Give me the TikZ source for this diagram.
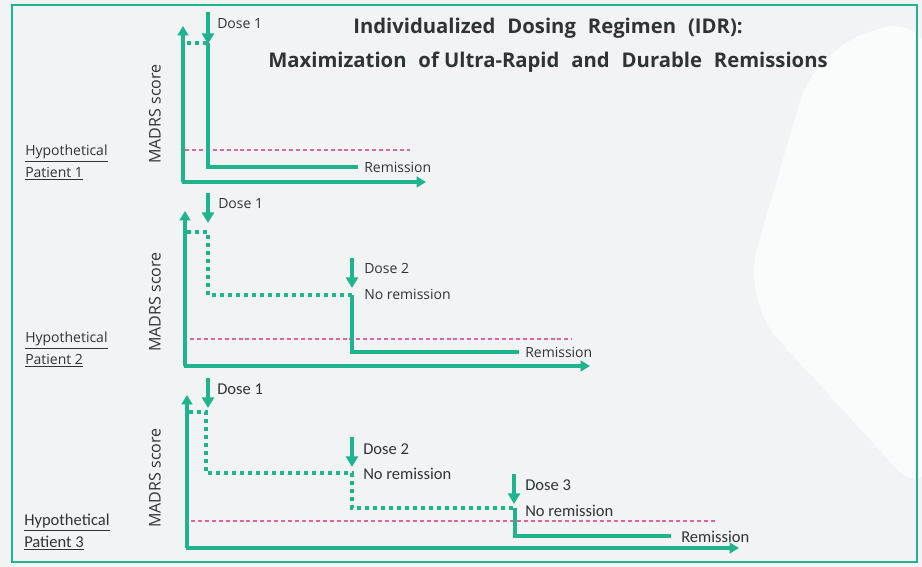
\documentclass[tikz,border=0pt]{standalone}
\usepackage{fontspec}
\setmainfont{Open Sans}
\newfontfamily\calfont{Carlito}
\usepackage{xcolor}
\usepackage{tikz}
\usetikzlibrary{arrows.meta}

\definecolor{idrgreen}{HTML}{1FB38E}
\definecolor{idrpink}{HTML}{E0649A}
\definecolor{idrback}{HTML}{F1F3F4}
\definecolor{idrtext}{HTML}{2E3436}

\newcommand{\gap}{\hspace{5pt}}

\begin{document}
\begin{tikzpicture}[
    x=0.75pt, y=-0.75pt,
    axis/.style={line width=3pt, idrgreen, -{Triangle[width=8pt,length=7pt]}},
    dose/.style={line width=3pt, idrgreen, -{Triangle[width=9pt,length=8pt]}},
    course/.style={line width=3pt, idrgreen},
    dotcourse/.style={line width=3pt, idrgreen, dash pattern=on 3pt off 3pt},
    cutoff/.style={idrpink, line width=0.8pt, dash pattern=on 3pt off 2.2pt},
    lbl/.style={anchor=west, inner sep=0pt, text=idrtext,
        font=\fontsize{10.5}{12}\selectfont},
    lblc/.style={anchor=west, inner sep=0pt, text=idrtext,
        font=\calfont\fontsize{12.4}{14}\selectfont},
    ylbl/.style={rotate=90, inner sep=0pt, text=idrtext,
        font=\fontsize{12}{14}\selectfont},
    patient/.style={anchor=west, inner sep=0pt, align=left, text=idrtext,
        font=\fontsize{10.5}{16}\selectfont},
    patientc/.style={anchor=west, inner sep=0pt, align=left, text=idrtext,
        font=\calfont\fontsize{12.4}{16}\selectfont},
    title/.style={inner sep=0pt, text=idrtext,
        font=\bfseries\fontsize{15.2}{18}\selectfont}
]

% Background and frame
\fill[idrback] (0,0) rectangle (922,567);
\useasboundingbox (0,0) rectangle (922,567);
\fill[white, opacity=0.7, rounded corners=40pt]
    (930,12) -- (815,50) -- (742,300) -- (930,505) -- cycle;
\draw[idrgreen, line width=1.5pt] (12,5) rectangle (917,562);

% Title
\node[title] (head1) at (548,28)
    {Individualized\gap{} Dosing\gap{} Regimen\gap{} (IDR):};
\node[title] (head2) at (548,62)
    {Maximization\gap{} of Ultra-Rapid\gap{} and\gap{} Durable\gap{} Remissions};

% ---- Patient 1 ----

\node[patient] (pat1) at (25,162.5)
    {\underline{Hypothetical}\\\underline{Patient 1}};
\node[ylbl] (mad1) at (155,114) {MADRS score};

% axes
\draw[axis] (183,182) -- (183,26);
\draw[axis] (181.5,182) -- (426,182);

% remission threshold
\draw[cutoff] (185,150) -- (410,150);

% course
\draw[dotcourse] (187,43) -- (208,43);
\draw[course] (208,43) -- (208,167) -- (358,167);

% dose
\draw[dose] (208,12) -- (208,44);
\node[lbl] (dose11) at (217,24) {Dose 1};
\node[lbl] (rem1) at (364,167) {Remission};

% ---- Patient 2 ----

\node[patient] (pat2) at (25,349.5)
    {\underline{Hypothetical}\\\underline{Patient 2}};
\node[ylbl] (mad2) at (155,302) {MADRS score};

% axes
\draw[axis] (185,366) -- (185,211);
\draw[axis] (183.5,366) -- (590,366);

% remission threshold
\draw[cutoff] (190,339) -- (572,339);

% course
\draw[dotcourse] (187,232) -- (208,232) -- (208,295) -- (352,295);
\draw[course] (352,295) -- (352,352) -- (519,352);

% doses
\draw[dose] (208,193) -- (208,223);
\node[lbl] (dose21) at (218,204) {Dose 1};
\draw[dose] (352,258) -- (352,288);
\node[lbl] (dose22) at (364,268) {Dose 2};
\node[lbl] (norem21) at (364,294) {No remission};
\node[lbl] (rem2) at (525,352) {Remission};

% ---- Patient 3 ----

\node[patientc] (pat3) at (24,532)
    {\underline{Hypothetical}\\\underline{Patient 3}};
\node[ylbl] (mad3) at (155,478) {MADRS score};

% axes
\draw[axis] (187,548) -- (187,395);
\draw[axis] (185.5,548) -- (739,548);

% remission threshold
\draw[cutoff] (191,521) -- (716,521);

% course
\draw[dotcourse] (189,412) -- (206,412) -- (206,473) -- (352,473)
    -- (352,508) -- (515,508);
\draw[course] (515,508) -- (515,536) -- (671,536);

% doses
\draw[dose] (208,378) -- (208,408);
\node[lblc] (dose31) at (217,389) {Dose 1};
\draw[dose] (352,437) -- (352,467);
\node[lblc] (dose32) at (363,449) {Dose 2};
\node[lblc] (norem31) at (363,474) {No remission};
\draw[dose] (514,474) -- (514,504);
\node[lblc] (dose33) at (525,485) {Dose 3};
\node[lblc] (norem32) at (525,511) {No remission};
\node[lblc] (rem3) at (681,537) {Remission};

\end{tikzpicture}
\end{document}
